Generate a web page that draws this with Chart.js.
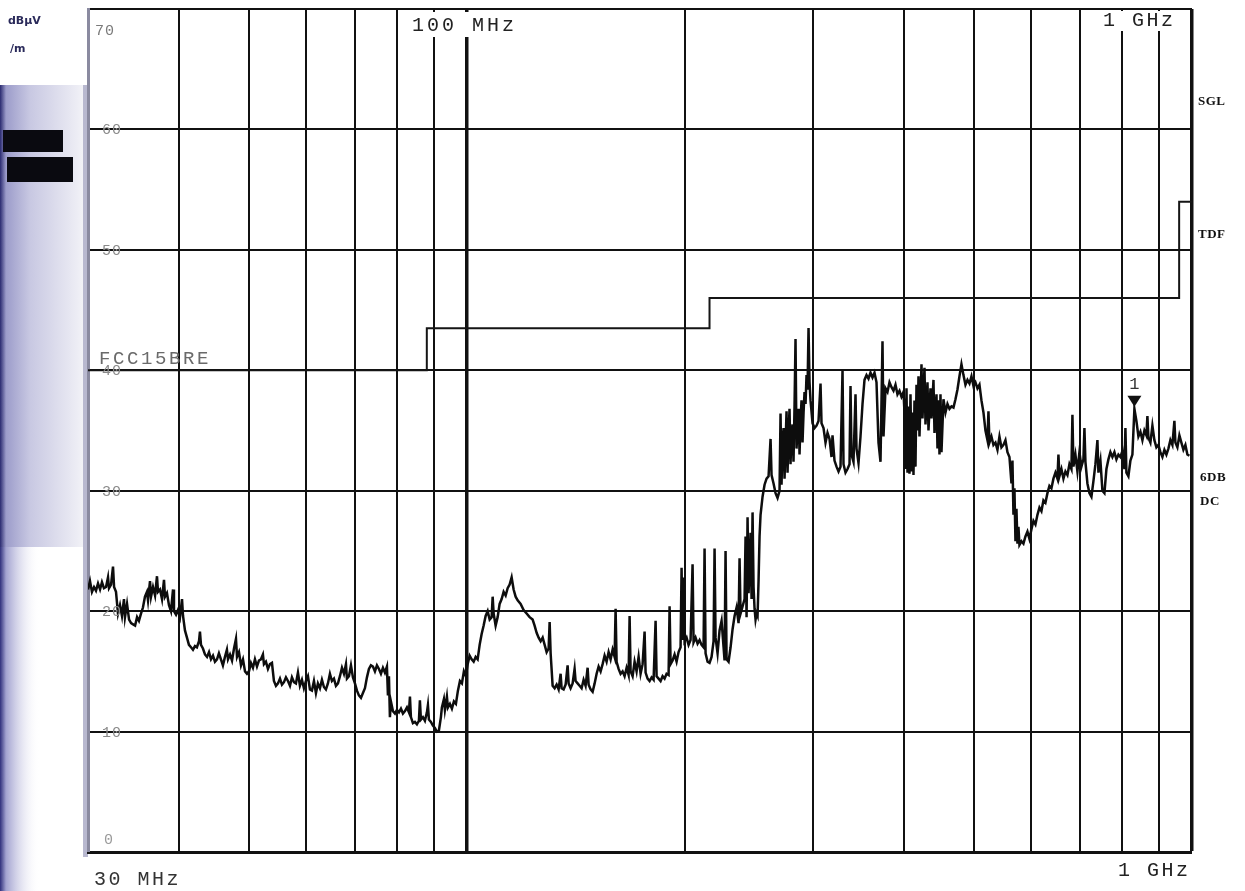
<!DOCTYPE html>
<html><head><meta charset="utf-8">
<script src="https://cdn.jsdelivr.net/npm/chart.js@4.4.1/dist/chart.umd.min.js"></script>
<style>html,body{margin:0;padding:0;background:#fff;overflow:hidden}canvas{display:block}</style>
</head><body>
<canvas id="c" width="1245" height="891"></canvas>
<script>
// ---- data ----
const xGridMHz = [30,40,50,60,70,80,90,100,200,300,400,500,600,700,800,900,1000];
const yTicksDb = [0,10,20,30,40,50,60,70];
const yLabelDb = [10,20,30,40,50,60];
const limitName = 'FCC15BRE';
const limitMHz = [30, 88, 88, 216, 216, 960, 960, 1000];
const limitDb  = [40, 40, 43.5, 43.5, 46, 46, 54, 54];
const markerLabels = ['1'];
const markerMHz = [832.84];
const markerDb = [36.8];
const displayLineLabels = ['SGL','TDF','6DB','DC'];
// measured trace: [frequency MHz, level dBµV/m]
const traceMHzDb = [
[30.00,21.8],[30.19,22.5],[30.38,21.6],[30.58,22.0],[30.77,21.7],[30.97,22.3],[31.17,21.8],[31.36,22.4],[31.56,21.9],[31.77,22.0],
[31.97,22.8],[32.07,21.9],[32.28,22.2],[32.48,23.7],[32.59,22.0],[32.79,21.6],[33.00,19.8],[33.21,20.5],[33.42,19.6],[33.63,21.0],
[33.74,19.5],[33.96,20.6],[34.18,19.3],[34.40,19.0],[34.62,18.9],[34.84,18.8],[35.06,19.5],[35.27,19.2],[35.50,19.8],[35.72,20.3],
[35.95,21.2],[36.18,21.6],[36.30,20.9],[36.53,22.5],[36.65,21.2],[36.88,22.0],[37.12,21.3],[37.35,22.9],[37.47,21.6],[37.71,21.8],
[37.95,21.0],[38.19,22.6],[38.31,21.2],[38.55,21.5],[38.80,20.5],[39.05,20.0],[39.30,21.8],[39.42,20.0],[39.68,19.7],[39.93,20.1],
[40.18,19.5],[40.44,21.0],[40.57,19.6],[40.82,18.4],[41.08,17.8],[41.34,17.2],[41.61,17.0],[41.87,16.8],[42.14,17.1],[42.40,17.0],
[42.68,17.5],[42.81,18.3],[42.95,17.2],[43.22,16.9],[43.50,16.4],[43.78,16.2],[44.06,16.6],[44.34,16.0],[44.62,16.3],[44.90,15.8],
[45.19,16.0],[45.47,16.5],[45.76,16.0],[46.05,15.5],[46.35,16.2],[46.64,16.8],[46.80,16.0],[47.10,16.4],[47.40,15.9],[47.70,16.9],
[48.00,17.7],[48.16,16.2],[48.46,16.6],[48.77,15.5],[49.08,16.0],[49.40,15.0],[49.71,14.8],[50.02,15.0],[50.34,15.7],[50.66,15.3],
[50.98,16.0],[51.31,15.4],[51.63,15.9],[51.96,16.0],[52.29,16.4],[52.46,15.6],[52.79,15.8],[53.13,15.2],[53.47,15.6],[53.81,15.7],
[54.15,14.2],[54.50,13.8],[54.85,14.0],[55.20,14.4],[55.55,13.9],[55.90,14.1],[56.26,14.5],[56.62,14.2],[56.98,13.8],[57.34,14.5],
[57.71,14.1],[58.07,14.0],[58.44,14.9],[58.81,13.8],[59.19,14.3],[59.56,13.6],[59.95,14.2],[60.33,14.6],[60.71,13.5],[61.10,13.4],
[61.49,14.2],[61.88,13.2],[62.27,14.0],[62.67,13.6],[63.07,14.3],[63.47,13.7],[63.87,13.5],[64.28,14.0],[64.69,14.8],[65.10,14.2],
[65.52,14.4],[65.94,13.8],[66.36,14.0],[66.78,14.6],[67.21,15.3],[67.64,14.8],[68.07,15.6],[68.28,14.4],[68.72,14.6],[69.16,15.5],
[69.60,14.5],[70.04,14.0],[70.49,13.4],[70.93,13.0],[71.39,12.8],[71.84,13.2],[72.30,13.6],[72.76,14.5],[73.22,15.2],[73.69,15.5],
[74.16,15.4],[74.63,15.0],[75.11,15.5],[75.59,15.2],[76.07,14.8],[76.55,15.3],[77.04,14.9],[77.53,15.4],[77.78,13.0],[78.03,14.6],
[78.27,11.2],[78.52,12.5],[79.02,11.7],[79.53,11.5],[80.03,11.8],[80.55,11.6],[81.06,11.9],[81.58,11.5],[82.10,11.7],[82.62,12.0],
[83.14,11.6],[83.41,12.9],[83.67,11.2],[84.20,10.7],[84.74,10.8],[85.28,10.6],[85.82,10.9],[86.09,12.6],[86.37,11.0],[86.92,11.2],
[87.47,10.9],[88.03,11.6],[88.31,12.2],[88.59,11.0],[89.16,10.8],[89.72,10.5],[90.29,10.3],[90.87,10.0],[91.45,10.1],[92.03,11.2],
[92.32,12.0],[92.91,12.7],[93.21,11.8],[93.80,12.9],[94.10,12.0],[94.70,12.3],[95.30,11.9],[95.91,12.5],[96.52,12.3],[97.14,13.4],
[97.76,14.2],[98.38,14.0],[99.00,15.0],[99.63,14.6],[100.19,15.6],[100.83,16.3],[101.47,16.0],[102.12,15.8],[102.77,16.2],[103.42,16.0],
[104.08,17.2],[104.74,18.1],[105.41,18.8],[106.08,19.6],[106.76,20.0],[107.44,19.3],[108.12,19.5],[108.47,21.2],[108.81,19.8],[109.50,18.8],
[110.20,19.5],[110.90,20.6],[111.61,21.0],[112.32,21.6],[113.04,21.3],[113.76,21.9],[114.48,22.2],[115.21,22.8],[115.94,21.8],[116.68,21.2],
[117.43,20.9],[118.55,20.6],[119.68,20.1],[120.83,19.8],[121.98,19.5],[123.15,19.3],[123.93,18.8],[124.73,18.2],[125.53,17.8],[126.33,17.5],
[127.14,17.8],[127.95,17.2],[128.76,16.6],[129.57,16.9],[129.99,19.1],[130.40,16.5],[131.23,13.8],[132.07,13.6],[132.91,13.9],[133.75,13.5],
[134.60,14.8],[135.03,13.6],[135.89,13.5],[136.76,13.9],[137.63,15.5],[138.07,14.0],[138.94,13.6],[139.83,14.0],[140.72,15.2],[141.17,14.2],
[142.07,14.0],[142.97,13.8],[143.88,13.6],[144.80,14.3],[145.72,13.8],[146.66,15.3],[147.13,13.9],[148.06,13.5],[149.01,13.3],[149.96,14.0],
[150.91,14.8],[151.87,15.4],[152.84,15.0],[153.81,15.6],[154.79,16.3],[155.77,15.8],[156.77,16.6],[157.77,16.0],[158.77,16.8],[159.78,16.2],
[160.29,20.2],[160.80,15.8],[161.82,15.2],[162.85,14.8],[163.89,15.0],[164.93,14.6],[165.99,15.3],[167.05,14.7],[167.58,19.6],[168.11,15.0],
[169.18,14.6],[170.26,15.8],[171.34,15.0],[172.44,16.2],[173.53,14.8],[174.64,15.6],[175.75,18.3],[176.31,14.9],[177.43,14.4],[178.56,14.2],
[179.70,14.5],[180.84,14.3],[182.00,19.2],[182.58,14.6],[183.74,14.4],[184.91,14.2],[186.09,14.6],[187.27,14.4],[188.47,14.8],[189.67,14.7],
[190.27,20.4],[190.88,15.6],[192.09,15.9],[193.32,16.4],[194.55,15.8],[195.78,16.6],[197.03,17.0],[197.66,23.6],[198.29,17.6],[198.92,22.8],
[199.55,17.5],[200.82,17.8],[202.10,17.2],[203.39,17.6],[204.68,23.9],[205.33,17.4],[206.64,17.8],[207.96,17.3],[209.28,17.6],[210.62,17.2],
[211.96,17.0],[212.63,25.2],[213.31,16.5],[214.67,15.8],[216.03,15.7],[217.41,16.2],[218.80,17.5],[219.49,25.2],[220.19,17.8],[221.59,16.5],
[223.00,18.4],[224.43,19.2],[225.86,17.0],[226.57,15.9],[227.29,25.0],[228.02,16.0],[229.47,15.8],[230.94,17.0],[232.41,18.5],[233.89,19.6],
[235.38,20.3],[236.87,19.0],[237.63,24.4],[238.38,19.8],[239.90,20.4],[241.43,21.0],[242.20,26.2],[242.97,19.5],[243.74,27.8],[244.52,21.5],
[245.29,23.6],[246.07,26.5],[246.86,21.0],[247.64,28.2],[248.43,22.0],[249.22,20.2],[250.01,19.3],[250.81,19.8],[251.60,19.6],[252.40,22.5],
[253.20,26.2],[254.01,28.0],[255.63,29.5],[257.26,30.5],[258.90,31.0],[260.55,31.2],[262.21,34.3],[263.04,31.3],[264.72,30.6],[266.40,29.8],
[268.09,29.4],[269.80,30.0],[270.66,36.4],[271.52,30.5],[272.40,34.0],[273.25,35.2],[274.12,31.0],[275.86,36.6],[276.74,31.5],[277.60,34.5],
[278.50,36.8],[279.38,32.2],[280.30,34.8],[281.16,35.5],[282.05,32.4],[282.95,37.0],[283.85,42.6],[284.76,33.5],[285.70,35.2],[286.58,36.8],
[287.49,33.0],[288.40,35.8],[289.32,37.5],[290.24,34.0],[291.20,36.5],[292.09,38.2],[293.02,37.2],[293.95,39.6],[294.89,38.4],[295.83,43.5],
[296.77,39.0],[297.71,37.5],[299.61,35.6],[301.52,35.2],[303.43,35.4],[305.37,35.8],
[307.31,38.9],[308.29,35.6],[310.25,35.2],[312.23,34.0],[314.22,34.8],[316.22,34.3],[318.23,32.8],[319.24,34.6],[321.27,32.5],[323.32,32.0],
[325.39,31.6],[327.46,32.0],[329.55,40.0],[330.59,32.2],[332.70,31.5],[334.82,31.8],[336.95,32.2],[338.02,38.7],[339.09,33.0],[341.25,32.4],
[343.43,38.0],[344.52,33.5],[346.72,32.3],[348.92,34.5],[351.15,37.2],[353.38,39.2],[355.64,39.6],[357.90,39.3],[360.18,39.8],[362.47,39.4],
[364.78,39.8],[367.11,39.0],[369.45,34.0],[371.80,32.4],[374.17,42.4],[375.36,34.5],[377.75,38.5],[380.16,38.2],[382.58,39.0],[385.02,38.6],
[387.47,38.3],[389.94,38.8],[392.42,38.0],[394.92,38.3],[397.44,37.8],[399.97,38.2],[401.24,36.5],[402.52,31.8],[403.80,38.5],[405.08,31.5],
[406.37,37.0],[407.66,31.4],[408.96,38.0],[410.26,31.6],[411.56,36.5],[412.87,31.3],[414.18,37.5],[415.50,32.0],[416.82,38.8],[418.15,35.0],
[419.48,39.5],[420.81,34.5],[423.50,40.5],[424.85,36.0],[427.55,40.2],[428.91,35.5],[431.64,39.0],[433.01,35.0],[435.77,38.5],[437.16,36.0],
[439.94,39.2],[441.34,34.8],[444.15,38.0],[445.56,33.5],[446.98,37.5],[448.40,33.0],[449.83,38.0],[451.26,33.2],[454.13,37.6],[457.03,36.5],
[459.94,37.2],[462.87,36.8],[465.81,37.0],[468.78,36.9],[471.76,37.6],[474.77,38.4],[477.79,39.5],[480.83,40.5],[483.89,39.6],[486.97,38.8],
[490.09,39.2],[493.21,38.9],[496.35,39.5],[499.51,38.7],[502.69,39.0],[505.90,38.5],[509.12,38.8],[512.36,37.5],[515.62,36.5],[518.90,35.0],
[522.22,34.2],[523.88,36.6],[525.55,34.0],[528.89,34.5],[532.26,33.8],[535.65,34.0],[539.07,33.4],[542.50,34.5],[545.95,33.6],[549.43,33.8],
[552.93,34.2],[556.46,33.2],[560.00,32.8],[563.57,30.6],[565.36,32.5],[567.16,28.0],[568.96,30.2],[570.77,25.8],[572.59,28.5],[574.41,25.6],
[576.24,27.0],[578.07,25.5],[581.75,25.8],[585.46,25.6],[589.18,26.2],[592.94,26.6],[596.72,26.0],[600.52,26.8],[604.34,27.5],[608.19,27.2],
[612.07,28.0],[615.97,28.6],[619.89,28.3],[623.84,29.2],[627.81,29.0],[631.82,29.8],[635.84,30.4],[639.89,30.2],[643.97,31.0],[648.07,31.5],
[652.20,31.0],[654.27,33.0],[656.35,31.2],[660.53,31.8],[664.74,31.0],[668.98,31.6],[673.24,31.3],[677.53,32.2],[681.85,31.8],[684.01,36.3],
[686.19,32.0],[690.56,33.0],[694.96,31.6],[699.39,33.2],[703.84,32.0],[708.33,32.6],[710.58,35.2],[712.84,32.4],[717.38,30.6],[721.95,29.8],
[726.55,29.5],[731.18,30.8],[735.84,32.2],[740.52,34.2],[742.88,31.5],[747.61,32.5],[752.38,30.0],[757.17,29.8],[762.00,31.8],[766.84,32.6],
[771.73,33.2],[776.65,32.8],[781.60,33.2],[786.58,32.6],[791.58,33.0],[796.63,32.8],[801.70,33.3],[806.81,31.8],[809.38,35.2],[811.95,31.5],
[817.12,31.2],[822.33,32.5],[827.57,33.0],[832.84,36.8],[838.14,35.8],[843.48,34.5],[848.86,34.9],[854.27,34.2],[859.71,35.0],[865.18,34.6],
[867.93,36.2],[870.69,34.4],[876.24,34.0],[881.82,35.4],[887.44,34.2],[893.09,33.6],[898.78,33.8],[904.51,33.2],[910.27,32.8],[916.07,33.4],
[921.90,33.0],[927.77,33.5],[933.68,34.2],[939.63,33.8],[945.62,35.8],[948.62,34.0],[954.67,33.6],[960.75,34.6],[966.87,34.0],[973.03,33.4],
[979.22,33.8],[985.46,33.0],[991.74,32.9]
];

// ---- drawing helpers ----
function txt(ctx, s, x, y, font, color, spacing, align) {
  ctx.save();
  ctx.font = font; ctx.fillStyle = color;
  ctx.textAlign = align || 'left'; ctx.textBaseline = 'alphabetic';
  try { ctx.letterSpacing = (spacing || 0) + 'px'; } catch (e) {}
  ctx.fillText(s, x, y);
  ctx.restore();
}

const bgPlugin = {
  id: 'bg',
  beforeDraw(chart) {
    const ctx = chart.ctx;
    ctx.save();
    ctx.fillStyle = '#ffffff';
    ctx.fillRect(0, 0, chart.width, chart.height);
    // scanned side strip
    let g = ctx.createLinearGradient(0, 0, 86, 0);
    g.addColorStop(0, '#2a2a70'); g.addColorStop(0.07, '#9c9cca');
    g.addColorStop(0.35, '#c8c8e2'); g.addColorStop(0.8, '#e6e6f1'); g.addColorStop(1, '#f4f4f8');
    ctx.fillStyle = g; ctx.fillRect(0, 85, 86, 462);
    let g2 = ctx.createLinearGradient(0, 0, 40, 0);
    g2.addColorStop(0, '#2f2f7c'); g2.addColorStop(0.15, '#a2a2d0'); g2.addColorStop(1, 'rgba(255,255,255,0)');
    ctx.fillStyle = g2; ctx.fillRect(0, 547, 40, 344);
    ctx.fillStyle = '#0a0a10';
    ctx.fillRect(3, 130, 60, 22);
    ctx.fillRect(7, 157, 66, 25);
    ctx.fillStyle = '#b8b8cf';
    ctx.fillRect(83, 85, 5, 772);
    ctx.restore();
  },
  afterDraw(chart) {
    const ctx = chart.ctx, ys = chart.scales.y, xs = chart.scales.x;
    const mono = '"Liberation Mono", "DejaVu Sans Mono", monospace';
    // units
    txt(ctx, 'dBµV', 8, 24, 'bold 11px "DejaVu Sans"', '#2a2a5a', 0);
    txt(ctx, '/m', 10, 52, 'bold 11px "DejaVu Sans"', '#2a2a5a', 0);
    // y tick labels
    txt(ctx, '70', 95, 35, '15px ' + mono, '#7a7a7a', 1);
    yLabelDb.forEach(v => {
      const y = ys.getPixelForValue(v);
      txt(ctx, v.toString(), 102, y + 5, '15px ' + mono, '#8a8a8a', 1);
    });
    txt(ctx, '0', 104, 844, '15px ' + mono, '#9a9a9a', 0);
    // frequency labels (with paper gaps behind top ones)
    ctx.save(); ctx.fillStyle = '#fff';
    ctx.fillRect(409, 12, 112, 25); ctx.fillRect(1100, 11, 82, 20);
    ctx.restore();
    txt(ctx, '100 MHz', 412, 31, '20px ' + mono, '#222', 3);
    txt(ctx, '1 GHz', 1103, 26, '20px ' + mono, '#222', 2.5);
    txt(ctx, '30 MHz', 94, 885, '20px ' + mono, '#333', 2.5);
    txt(ctx, '1 GHz', 1118, 876, '20px ' + mono, '#222', 2.5);
    // limit / display line labels
    txt(ctx, limitName, 99, 364, '19px ' + mono, '#6a6a6a', 2.6);
    const serif = 'bold 13px "Liberation Serif", "DejaVu Serif", serif';
    txt(ctx, displayLineLabels[0], 1198, 105, serif, '#111', 0.5);
    txt(ctx, displayLineLabels[1], 1198, 238, serif, '#111', 0.5);
    txt(ctx, displayLineLabels[2], 1200, 481, serif, '#111', 0.5);
    txt(ctx, displayLineLabels[3], 1200, 505, serif, '#111', 0.5);
    // markers
    markerLabels.forEach((lab, i) => {
      const px = xs.getPixelForValue(markerMHz[i]);
      const py = ys.getPixelForValue(markerDb[i]);
      ctx.save();
      ctx.fillStyle = '#111';
      ctx.beginPath();
      ctx.moveTo(px - 7, py - 13); ctx.lineTo(px + 7, py - 13); ctx.lineTo(px, py - 2); ctx.closePath();
      ctx.fill();
      ctx.restore();
      txt(ctx, lab, px, py - 20, '17px ' + mono, '#333', 0, 'center');
    });
  }
};

new Chart(document.getElementById('c'), {
  type: 'line',
  data: {
    datasets: [
      {
        label: 'trace',
        data: traceMHzDb.map(p => ({ x: p[0], y: p[1] })),
        borderColor: '#0d0d0d', borderWidth: 2.5, pointRadius: 0, tension: 0,
        borderJoinStyle: 'miter'
      },
      {
        label: limitName,
        data: limitMHz.map((f, i) => ({ x: f, y: limitDb[i] })),
        borderColor: '#151515', borderWidth: 2, pointRadius: 0, tension: 0
      }
    ]
  },
  options: {
    responsive: false, animation: false, devicePixelRatio: 1,
    layout: { padding: { left: 88, top: 9, right: 53, bottom: 39 } },
    plugins: { legend: { display: false }, tooltip: { enabled: false } },
    scales: {
      x: {
        type: 'logarithmic', min: 30, max: 1000,
        afterBuildTicks: s => { s.ticks = xGridMHz.map(v => ({ value: v })); },
        ticks: { display: false },
        grid: {
          color: '#111', drawTicks: false,
          lineWidth: c => (c.tick && c.tick.value === 100) ? 3.5 : ((c.tick && c.tick.value === 1000) ? 3.5 : ((c.tick && c.tick.value === 30) ? 0 : 2))
        },
        border: { display: true, color: '#111', width: 3 }
      },
      y: {
        type: 'linear', min: 0, max: 70,
        afterBuildTicks: s => { s.ticks = yTicksDb.map(v => ({ value: v })); },
        ticks: { display: false },
        grid: { color: '#111', drawTicks: false, lineWidth: c => (c.tick && c.tick.value === 0) ? 0 : 2 },
        border: { display: true, color: '#8a8aa0', width: 3 }
      }
    }
  },
  plugins: [bgPlugin]
});
</script>
</body></html>
